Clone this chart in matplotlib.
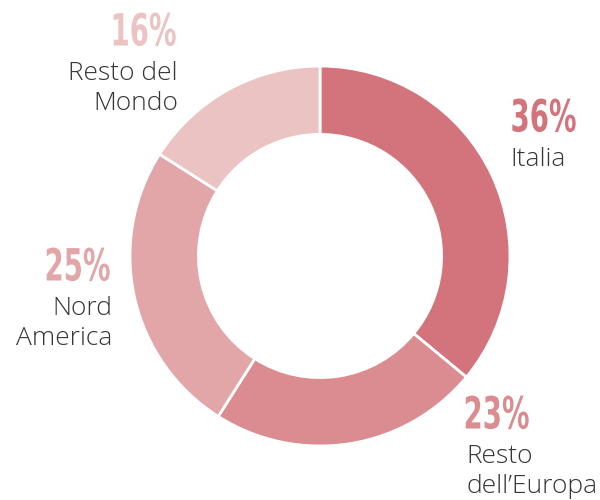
import matplotlib
matplotlib.use('Agg')
import matplotlib.pyplot as plt
from matplotlib import font_manager
from matplotlib.patheffects import AbstractPathEffect
from matplotlib.transforms import Affine2D

# dati del grafico
regioni = ["Italia", "Resto\ndell’Europa", "Nord\nAmerica", "Resto del\nMondo"]
quote = [36, 23, 25, 16]
colori = ['#d3737b', '#da8c91', '#e2a6a8', '#ebc3c2']


class Stretto(AbstractPathEffect):
    """Comprime il testo in orizzontale (le percentuali sono in un font stretto)."""
    def __init__(self, sx):
        super().__init__()
        self.sx = sx

    def draw_path(self, renderer, gc, tpath, affine, rgbFace=None):
        # scala attorno al bordo destro del testo
        x1 = tpath.get_extents().x1
        t = Affine2D().translate(-x1, 0).scale(self.sx, 1).translate(x1, 0)
        renderer.draw_path(gc, tpath, t + affine, rgbFace)


# cerca un font stretto per le percentuali
stretti = [f for f in font_manager.fontManager.ttflist
           if f.stretch in ('condensed', 'semi-condensed', 'extra-condensed', 'ultra-condensed')
           and f.weight in ('bold', 700)]
if stretti:
    font_perc = dict(family=stretti[0].name, stretch=stretti[0].stretch)
    sx = 0.69
else:
    font_perc = dict(family='DejaVu Sans')
    sx = 0.60

fig = plt.figure(figsize=(6, 5), dpi=100)
ax = fig.add_axes([0, 0, 1, 1])

H = 500
cx, cy, r = 320, H - 256, 190
ax.pie(quote, colors=colori, startangle=90, counterclock=False,
       center=(cx, cy), radius=r, frame=True,
       wedgeprops=dict(width=r * 0.36, edgecolor='white', linewidth=2))
ax.set_xlim(0, 600)
ax.set_ylim(0, H)
ax.set_aspect('equal')
ax.axis('off')

# posizioni: (x etichetta, x bordo destro percentuale, y percentuale dall'alto, allineamento)
posizioni = [(510, 577, 119, 'left'), (466, 530, 416, 'left'),
             (112, 111, 268, 'right'), (178, 177, 33, 'right')]

for nome, q, col, (x, xp, y, ha) in zip(regioni, quote, colori, posizioni):
    ax.text(xp, H - y, f"{q}%", color=col, ha='right', va='center', fontsize=32,
            fontweight='bold', path_effects=[Stretto(sx)], **font_perc)
    ax.text(x, H - y - 28, nome, color='#363636', ha=ha, va='top', fontsize=19,
            family='Open Sans', fontweight='light', linespacing=1.28)

fig.savefig('out.png', dpi=100)
